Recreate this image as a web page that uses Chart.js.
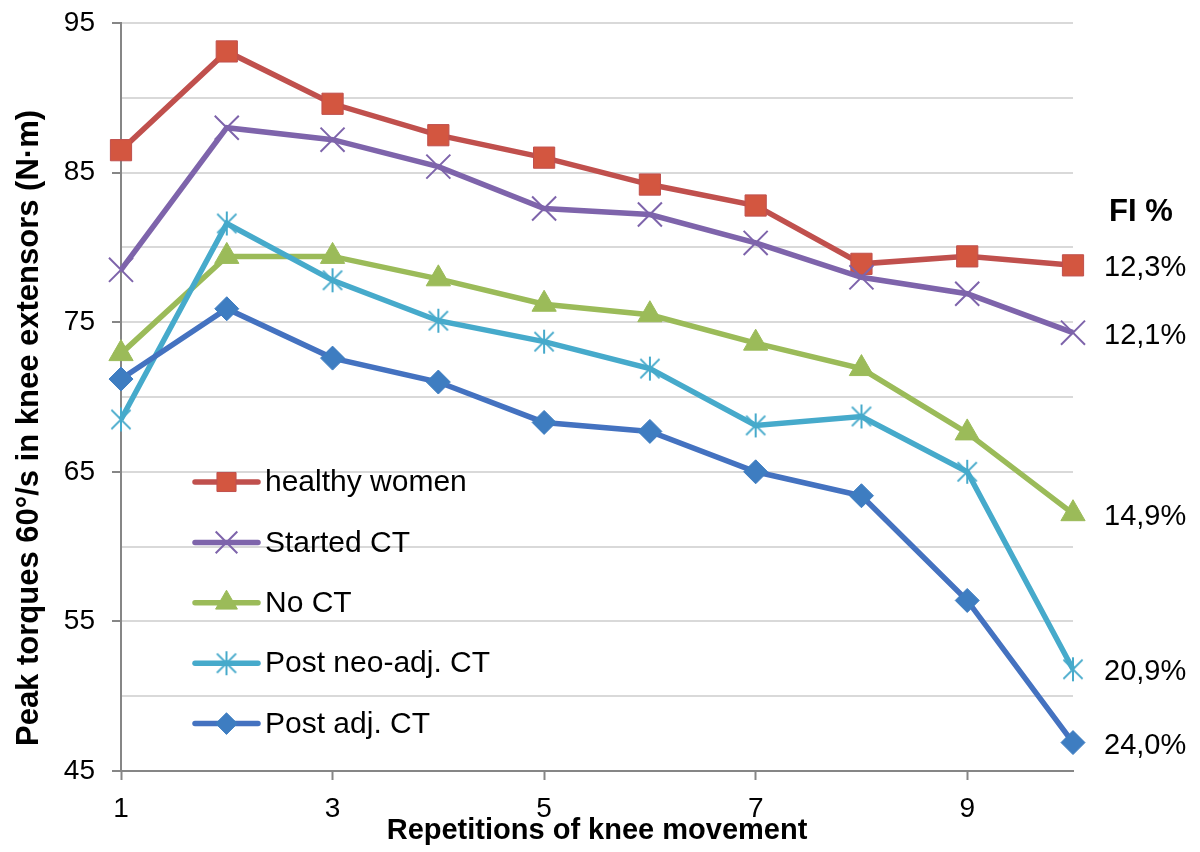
<!DOCTYPE html>
<html>
<head>
<meta charset="utf-8">
<script src="https://cdn.jsdelivr.net/npm/chart.js@4.4.1/dist/chart.umd.min.js"></script>
<style>
  html, body { margin: 0; padding: 0; background: #ffffff; }
  canvas { display: block; }
</style>
</head>
<body>
<canvas id="chart" width="1200" height="852"></canvas>
<script>
// Peak torque (N·m) at 60°/s over ten repetitions of knee extension
const repetitions = [1, 2, 3, 4, 5, 6, 7, 8, 9, 10];
const healthyWomen = [86.5, 93.1, 89.6, 87.5, 86.0, 84.2, 82.8, 78.9, 79.4, 78.8];
const startedCT = [78.5, 88.0, 87.2, 85.4, 82.6, 82.2, 80.3, 78.0, 76.9, 74.3];
const noCT = [72.9, 79.4, 79.4, 77.9, 76.2, 75.5, 73.6, 71.9, 67.6, 62.2];
const postNeoAdjCT = [68.5, 81.6, 77.8, 75.1, 73.7, 71.9, 68.1, 68.7, 65.0, 51.8];
const postAdjCT = [71.2, 75.9, 72.6, 71.0, 68.3, 67.7, 65.0, 63.4, 56.4, 46.9];

const seriesNames = ['healthy women', 'Started CT', 'No CT', 'Post neo-adj. CT', 'Post adj. CT'];
const fatigueIndex = ['12,3%', '12,1%', '14,9%', '20,9%', '24,0%'];
const fatigueTitle = 'FI %';
const yTickLabels = [45, 55, 65, 75, 85, 95];
const xTickLabels = [1, 3, 5, 7, 9];
const yTitle = 'Peak torques 60°/s in knee extensors (N·m)';
const xTitle = 'Repetitions of knee movement';

const FONT = "'Liberation Sans', Arial, Helvetica, sans-serif";
const AXIS_GREY = '#868686';
const GRID_GREY = '#D9D9D9';

// Asterisk marker: an X with a vertical stroke through it
function asteriskMarker(color, size, lw) {
  const c = document.createElement('canvas');
  c.width = size; c.height = size;
  const g = c.getContext('2d');
  const m = size / 2, r = size / 2 - lw;
  g.strokeStyle = color; g.lineWidth = lw; g.lineCap = 'butt';
  g.beginPath();
  g.moveTo(m - r * 0.8, m - r * 0.8); g.lineTo(m + r * 0.8, m + r * 0.8);
  g.moveTo(m + r * 0.8, m - r * 0.8); g.lineTo(m - r * 0.8, m + r * 0.8);
  g.moveTo(m, m - r); g.lineTo(m, m + r);
  g.stroke();
  return c;
}

const styles = [
  { line: '#C0504D', fill: '#D35640', border: '#C0504D', point: 'rect', radius: 15, bw: 1 },
  { line: '#7E64AB', fill: '#7E64AB', border: '#7E64AB', point: 'crossRot', radius: 17, bw: 2 },
  { line: '#9BBB59', fill: '#9BBB59', border: '#9BBB59', point: 'triangle', radius: 14, bw: 1 },
  { line: '#46AACB', fill: '#46AACB', border: '#46AACB', point: asteriskMarker('#46AACB', 28, 2), radius: 14, bw: 0 },
  { line: '#4472C0', fill: '#3E7DC1', border: '#3E7DC1', point: 'rectRot', radius: 12, bw: 1 }
];

const seriesValues = [healthyWomen, startedCT, noCT, postNeoAdjCT, postAdjCT];

const datasets = seriesValues.map((vals, i) => ({
  label: seriesNames[i],
  data: vals.map((v, j) => ({ x: repetitions[j], y: v })),
  borderColor: styles[i].line,
  backgroundColor: styles[i].fill,
  borderWidth: 5.5,
  pointStyle: styles[i].point,
  pointRadius: styles[i].radius,
  pointBorderColor: styles[i].border,
  pointBackgroundColor: styles[i].fill,
  pointBorderWidth: styles[i].bw,
  tension: 0,
  clip: false,
  order: seriesValues.length - i
}));

// Legend inside the plot, lower left
const insideLegend = {
  id: 'insideLegend',
  afterDraw(chart) {
    const ctx = chart.ctx;
    const x0 = 195, x1 = 258, top = 482, step = 60.4;
    ctx.save();
    datasets.forEach((ds, i) => {
      const y = top + i * step;
      ctx.strokeStyle = ds.borderColor;
      ctx.lineWidth = 5.5;
      ctx.lineCap = 'round';
      ctx.beginPath(); ctx.moveTo(x0, y); ctx.lineTo(x1, y); ctx.stroke();
      ctx.lineCap = 'butt';
      ctx.fillStyle = ds.pointBackgroundColor;
      ctx.strokeStyle = ds.pointBorderColor;
      ctx.lineWidth = ds.pointBorderWidth;
      Chart.helpers.drawPoint(ctx, {
        pointStyle: ds.pointStyle, radius: ds.pointRadius * 0.9, rotation: 0, borderWidth: ds.pointBorderWidth
      }, (x0 + x1) / 2, y);
      ctx.fillStyle = '#000000';
      ctx.font = `30px ${FONT}`;
      ctx.textAlign = 'left';
      ctx.textBaseline = 'middle';
      ctx.fillText(ds.label, 265, y + 1);
    });
    ctx.restore();
  }
};

// Fatigue index labels next to the last repetition, plus the value-axis title
const sideTexts = {
  id: 'sideTexts',
  afterDraw(chart) {
    const ctx = chart.ctx;
    const ys = chart.scales.y;
    ctx.save();
    ctx.fillStyle = '#000000';
    ctx.textAlign = 'left';
    ctx.textBaseline = 'middle';
    ctx.font = `bold 31px ${FONT}`;
    ctx.fillText(fatigueTitle, 1109, 212);
    ctx.font = `29px ${FONT}`;
    seriesValues.forEach((vals, i) => {
      const y = ys.getPixelForValue(vals[vals.length - 1]);
      ctx.fillText(fatigueIndex[i], 1104, y + 3);
    });

    ctx.translate(29, 428);
    ctx.rotate(-Math.PI / 2);
    ctx.textAlign = 'center';
    ctx.font = `bold 31px ${FONT}`;
    ctx.fillText(yTitle, 0, 0);
    ctx.restore();
  }
};

new Chart(document.getElementById('chart'), {
  type: 'line',
  data: { datasets },
  options: {
    responsive: false,
    animation: false,
    devicePixelRatio: 1,
    layout: { padding: { top: 23, right: 127, bottom: 0, left: 0 } },
    plugins: { legend: { display: false }, tooltip: { enabled: false } },
    scales: {
      x: {
        type: 'linear',
        min: 1, max: 10,
        afterFit(scale) {
          scale.height = 81;
          scale.paddingLeft = 0;
          scale.paddingRight = 0;
        },
        ticks: {
          stepSize: 1,
          autoSkip: false,
          maxRotation: 0,
          padding: 12,
          color: '#000000',
          font: { family: FONT, size: 28 },
          callback: (v) => xTickLabels.includes(v) ? String(v) : ''
        },
        grid: {
          drawOnChartArea: false,
          drawTicks: true,
          tickLength: 9,
          tickWidth: 2,
          tickColor: (c) => (c.tick && xTickLabels.includes(c.tick.value)) ? AXIS_GREY : 'rgba(0,0,0,0)'
        },
        border: { color: AXIS_GREY, width: 2 },
        title: {
          display: true,
          text: xTitle,
          color: '#000000',
          font: { family: FONT, size: 29, weight: 'bold' },
          padding: { top: 0, bottom: 4 }
        }
      },
      y: {
        min: 45, max: 95,
        afterFit(scale) {
          scale.width = 121;
          scale.paddingTop = 0;
          scale.paddingBottom = 0;
        },
        ticks: {
          stepSize: 5,
          autoSkip: false,
          padding: 17,
          color: '#000000',
          font: { family: FONT, size: 28 },
          callback: (v) => yTickLabels.includes(v) ? String(v) : ''
        },
        grid: {
          color: GRID_GREY,
          lineWidth: 2,
          drawTicks: true,
          tickLength: 9,
          tickWidth: 2,
          tickColor: (c) => (c.tick && yTickLabels.includes(c.tick.value)) ? AXIS_GREY : 'rgba(0,0,0,0)'
        },
        border: { color: AXIS_GREY, width: 2 }
      }
    }
  },
  plugins: [insideLegend, sideTexts]
});
</script>
</body>
</html>
